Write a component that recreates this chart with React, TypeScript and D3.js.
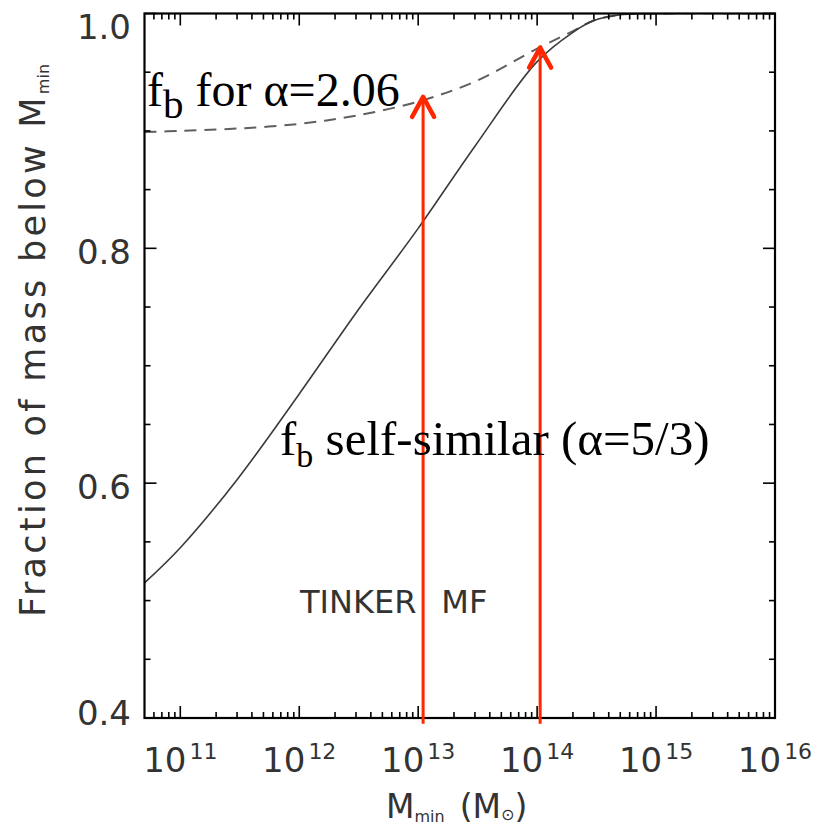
import React from "react";
import * as d3 from "d3";

// ---- data ----
const massGrid = [5e10, 1e11, 3e11, 1e12, 3e12, 1e13, 3e13, 1e14, 2e14, 3e14, 5e14, 1e15, 1e16];
const fracSelfSimilar = [0.515, 0.545, 0.603, 0.676, 0.745, 0.817, 0.887, 0.959, 0.984, 0.994, 0.999, 1.0, 1.0];
const fracAlpha206 = [0.899, 0.9, 0.902, 0.906, 0.913, 0.925, 0.942, 0.97, 0.985, 0.994, 0.999, 1.0, 1.0];

const xDomain = [5e10, 1e16];
const yDomain = [0.4, 1.0];
const xMajorExps = [11, 12, 13, 14, 15, 16];
const yMajorTicks = [0.4, 0.6, 0.8, 1.0];
const yMinorTicks = [0.45, 0.5, 0.55, 0.65, 0.7, 0.75, 0.85, 0.9, 0.95];
const yTickLabels = ["0.4", "0.6", "0.8", "1.0"];

const arrowMasses = [1.1e13, 1.06e14];
const arrowTips = [0.929, 0.971];
const arrowBase = 0.395;

const W = 816;
const H = 825;
const L = 144.5;
const R = 775;
const T = 13.5;
const B = 718;

const sans = "'DejaVu Sans', 'Liberation Sans', sans-serif";
const serif = "'Liberation Serif', 'Times New Roman', serif";
const RED = "#ff2600";
const INK = "#333";

export default function App() {
  const x = d3.scaleLog().domain(xDomain).range([L, R]);
  const y = d3.scaleLinear().domain(yDomain).range([B, T]);

  const line = d3
    .line<number>()
    .x((_, i) => x(massGrid[i]))
    .y((d) => y(d))
    .curve(d3.curveCatmullRom.alpha(0.5));

  const minorX: number[] = [];
  for (let e = 10; e <= 15; e++) {
    for (let k = 2; k <= 9; k++) {
      const v = k * Math.pow(10, e);
      if (v > xDomain[0] && v < xDomain[1]) minorX.push(v);
    }
  }

  const majLen = 12;
  const minLen = 6;

  return (
    <svg
      width={W}
      height={H}
      style={{ position: "absolute", left: 0, top: 0, display: "block", background: "#fff" }}
    >
      <defs>
        <clipPath id="plotClip">
          <rect x={L} y={T} width={R - L} height={B - T} />
        </clipPath>
      </defs>

      {/* curves */}
      <g clipPath="url(#plotClip)">
        <path d={line(fracAlpha206) || ""} fill="none" stroke="#5f5f5f" strokeWidth={2} strokeDasharray="12,8" />
        <path d={line(fracSelfSimilar) || ""} fill="none" stroke="#3a3a3a" strokeWidth={1.6} />
      </g>

      {/* ticks */}
      <g stroke="#000" strokeWidth={1.6}>
        {xMajorExps.map((e) => {
          const px = x(Math.pow(10, e));
          return (
            <g key={"xM" + e}>
              <line x1={px} x2={px} y1={B} y2={B - majLen} />
              <line x1={px} x2={px} y1={T} y2={T + majLen} />
            </g>
          );
        })}
        {minorX.map((v, i) => {
          const px = x(v);
          return (
            <g key={"xm" + i}>
              <line x1={px} x2={px} y1={B} y2={B - minLen} />
              <line x1={px} x2={px} y1={T} y2={T + minLen} />
            </g>
          );
        })}
        {yMajorTicks.map((v) => (
          <g key={"yM" + v}>
            <line x1={L} x2={L + majLen} y1={y(v)} y2={y(v)} />
            <line x1={R} x2={R - majLen} y1={y(v)} y2={y(v)} />
          </g>
        ))}
        {yMinorTicks.map((v) => (
          <g key={"ym" + v}>
            <line x1={L} x2={L + minLen} y1={y(v)} y2={y(v)} />
            <line x1={R} x2={R - minLen} y1={y(v)} y2={y(v)} />
          </g>
        ))}
      </g>

      {/* frame */}
      <rect x={L} y={T} width={R - L} height={B - T} fill="none" stroke="#000" strokeWidth={2.2} />

      {/* red arrows */}
      {arrowMasses.map((m, i) => {
        const px = x(m);
        const tipY = y(arrowTips[i]);
        return (
          <g key={"arr" + i} stroke={RED} fill="none" strokeLinecap="round" strokeLinejoin="round">
            <line x1={px} x2={px} y1={y(arrowBase)} y2={tipY + 2} strokeWidth={3} strokeLinecap="butt" />
            <polyline
              points={`${px - 11},${tipY + 20} ${px},${tipY} ${px + 11},${tipY + 20}`}
              strokeWidth={4.5}
            />
          </g>
        );
      })}

      {/* y tick labels */}
      {yMajorTicks.map((v, i) => {
        const cy = Math.min(Math.max(y(v) + 3, T + 13), B - 6);
        return (
          <text
            key={"yl" + v}
            x={131}
            y={cy + 12.5}
            textAnchor="end"
            fontFamily={sans}
            fontSize={34}
            fill={INK}
          >
            {yTickLabels[i]}
          </text>
        );
      })}

      {/* x tick labels */}
      {xMajorExps.map((e) => (
        <text
          key={"xl" + e}
          x={x(Math.pow(10, e))}
          y={772}
          textAnchor="middle"
          fontFamily={sans}
          fontSize={34}
          fill={INK}
        >
          10
          <tspan fontSize={22} dx={3} dy={-13}>
            {e}
          </tspan>
        </text>
      ))}

      {/* x axis title */}
      <text x={386} y={818} fontFamily={sans} fontSize={33} fill={INK} style={{ whiteSpace: "pre" }}>
        M
        <tspan fontSize={16} dy={4}>min</tspan>
        <tspan dy={-4} dx={15}>(M</tspan>
        <tspan fontSize={16} dy={2}>⊙</tspan>
        <tspan dy={-2}>)</tspan>
      </text>

      {/* y axis title */}
      <text
        transform="translate(45,617) rotate(-90)"
        x={0}
        y={0}
        fontFamily={sans}
        fontSize={35}
        letterSpacing={3.3}
        fill={INK}
        style={{ whiteSpace: "pre" }}
      >
        Fraction of mass below M
        <tspan fontSize={16} dy={4} letterSpacing={0}>min</tspan>
      </text>

      {/* annotations */}
      <text x={147} y={106} fontFamily={serif} fontSize={48} fill="#000" style={{ whiteSpace: "pre" }}>
        f
        <tspan fontSize={41} dy={12}>b</tspan>
        <tspan dy={-12}> for α=2.06</tspan>
      </text>
      <text x={280} y={455} fontFamily={serif} fontSize={49} fill="#000" style={{ whiteSpace: "pre" }}>
        f
        <tspan fontSize={34} dy={12}>b</tspan>
        <tspan dy={-12}> self-similar (α=5/3)</tspan>
      </text>

      <text x={300} y={613} fontFamily={sans} fontSize={32} fill={INK} style={{ whiteSpace: "pre" }}>
        TINKER
        <tspan dx={25}>MF</tspan>
      </text>
    </svg>
  );
}
